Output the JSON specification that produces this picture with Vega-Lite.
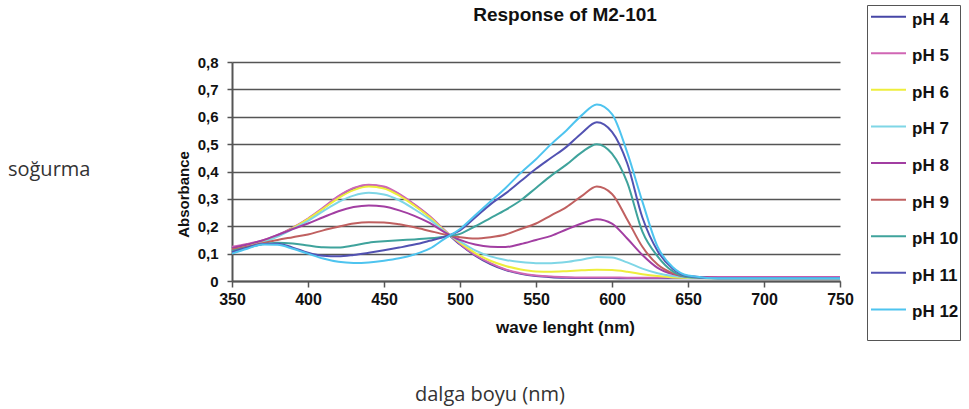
{
  "$schema": "https://vega.github.io/schema/vega-lite/v6.json",
  "autosize": {"type": "none"},
  "width": 608,
  "height": 219,
  "padding": {"left": 232, "top": 62, "right": 129, "bottom": 128},
  "background": "white",
  "config": {"view": {"stroke": null}, "font": "Liberation Sans"},
  "layer": [
    {
      "data": {
        "values": [
          {"wl": 350, "pH 4": 0.120, "pH 5": 0.125, "pH 6": 0.115, "pH 7": 0.110, "pH 8": 0.120, "pH 9": 0.115, "pH 10": 0.110, "pH 11": 0.105, "pH 12": 0.100},
          {"wl": 360, "pH 4": 0.132, "pH 5": 0.135, "pH 6": 0.128, "pH 7": 0.125, "pH 8": 0.133, "pH 9": 0.125, "pH 10": 0.122, "pH 11": 0.122, "pH 12": 0.118},
          {"wl": 370, "pH 4": 0.146, "pH 5": 0.148, "pH 6": 0.143, "pH 7": 0.140, "pH 8": 0.148, "pH 9": 0.138, "pH 10": 0.134, "pH 11": 0.135, "pH 12": 0.133},
          {"wl": 380, "pH 4": 0.166, "pH 5": 0.168, "pH 6": 0.165, "pH 7": 0.162, "pH 8": 0.168, "pH 9": 0.150, "pH 10": 0.140, "pH 11": 0.136, "pH 12": 0.132},
          {"wl": 390, "pH 4": 0.193, "pH 5": 0.195, "pH 6": 0.193, "pH 7": 0.190, "pH 8": 0.190, "pH 9": 0.160, "pH 10": 0.137, "pH 11": 0.122, "pH 12": 0.118},
          {"wl": 400, "pH 4": 0.226, "pH 5": 0.228, "pH 6": 0.226, "pH 7": 0.220, "pH 8": 0.210, "pH 9": 0.170, "pH 10": 0.130, "pH 11": 0.103, "pH 12": 0.100},
          {"wl": 410, "pH 4": 0.266, "pH 5": 0.268, "pH 6": 0.264, "pH 7": 0.255, "pH 8": 0.233, "pH 9": 0.185, "pH 10": 0.123, "pH 11": 0.092, "pH 12": 0.082},
          {"wl": 420, "pH 4": 0.308, "pH 5": 0.310, "pH 6": 0.303, "pH 7": 0.288, "pH 8": 0.255, "pH 9": 0.198, "pH 10": 0.122, "pH 11": 0.090, "pH 12": 0.070},
          {"wl": 430, "pH 4": 0.338, "pH 5": 0.340, "pH 6": 0.332, "pH 7": 0.312, "pH 8": 0.270, "pH 9": 0.210, "pH 10": 0.130, "pH 11": 0.095, "pH 12": 0.066},
          {"wl": 440, "pH 4": 0.350, "pH 5": 0.352, "pH 6": 0.345, "pH 7": 0.322, "pH 8": 0.276, "pH 9": 0.215, "pH 10": 0.140, "pH 11": 0.103, "pH 12": 0.068},
          {"wl": 450, "pH 4": 0.343, "pH 5": 0.345, "pH 6": 0.338, "pH 7": 0.316, "pH 8": 0.272, "pH 9": 0.214, "pH 10": 0.145, "pH 11": 0.112, "pH 12": 0.074},
          {"wl": 460, "pH 4": 0.316, "pH 5": 0.318, "pH 6": 0.312, "pH 7": 0.295, "pH 8": 0.258, "pH 9": 0.207, "pH 10": 0.149, "pH 11": 0.122, "pH 12": 0.083},
          {"wl": 470, "pH 4": 0.278, "pH 5": 0.280, "pH 6": 0.275, "pH 7": 0.262, "pH 8": 0.238, "pH 9": 0.196, "pH 10": 0.152, "pH 11": 0.133, "pH 12": 0.097},
          {"wl": 480, "pH 4": 0.235, "pH 5": 0.237, "pH 6": 0.233, "pH 7": 0.225, "pH 8": 0.212, "pH 9": 0.183, "pH 10": 0.156, "pH 11": 0.147, "pH 12": 0.118},
          {"wl": 490, "pH 4": 0.183, "pH 5": 0.185, "pH 6": 0.183, "pH 7": 0.180, "pH 8": 0.178, "pH 9": 0.170, "pH 10": 0.162, "pH 11": 0.162, "pH 12": 0.155},
          {"wl": 500, "pH 4": 0.133, "pH 5": 0.135, "pH 6": 0.140, "pH 7": 0.145, "pH 8": 0.150, "pH 9": 0.160, "pH 10": 0.172, "pH 11": 0.185, "pH 12": 0.190},
          {"wl": 510, "pH 4": 0.093, "pH 5": 0.095, "pH 6": 0.102, "pH 7": 0.112, "pH 8": 0.133, "pH 9": 0.155, "pH 10": 0.200, "pH 11": 0.232, "pH 12": 0.240},
          {"wl": 520, "pH 4": 0.062, "pH 5": 0.065, "pH 6": 0.074, "pH 7": 0.090, "pH 8": 0.125, "pH 9": 0.160, "pH 10": 0.230, "pH 11": 0.280, "pH 12": 0.290},
          {"wl": 530, "pH 4": 0.040, "pH 5": 0.042, "pH 6": 0.055, "pH 7": 0.077, "pH 8": 0.124, "pH 9": 0.170, "pH 10": 0.260, "pH 11": 0.320, "pH 12": 0.340},
          {"wl": 540, "pH 4": 0.026, "pH 5": 0.028, "pH 6": 0.042, "pH 7": 0.069, "pH 8": 0.135, "pH 9": 0.190, "pH 10": 0.295, "pH 11": 0.365, "pH 12": 0.395},
          {"wl": 550, "pH 4": 0.018, "pH 5": 0.020, "pH 6": 0.035, "pH 7": 0.065, "pH 8": 0.150, "pH 9": 0.210, "pH 10": 0.340, "pH 11": 0.410, "pH 12": 0.445},
          {"wl": 560, "pH 4": 0.014, "pH 5": 0.016, "pH 6": 0.034, "pH 7": 0.065, "pH 8": 0.165, "pH 9": 0.240, "pH 10": 0.385, "pH 11": 0.450, "pH 12": 0.500},
          {"wl": 570, "pH 4": 0.012, "pH 5": 0.014, "pH 6": 0.036, "pH 7": 0.069, "pH 8": 0.188, "pH 9": 0.270, "pH 10": 0.425, "pH 11": 0.490, "pH 12": 0.550},
          {"wl": 580, "pH 4": 0.011, "pH 5": 0.013, "pH 6": 0.039, "pH 7": 0.078, "pH 8": 0.210, "pH 9": 0.310, "pH 10": 0.470, "pH 11": 0.540, "pH 12": 0.605},
          {"wl": 590, "pH 4": 0.011, "pH 5": 0.013, "pH 6": 0.041, "pH 7": 0.088, "pH 8": 0.226, "pH 9": 0.345, "pH 10": 0.500, "pH 11": 0.580, "pH 12": 0.645},
          {"wl": 600, "pH 4": 0.011, "pH 5": 0.013, "pH 6": 0.040, "pH 7": 0.086, "pH 8": 0.210, "pH 9": 0.318, "pH 10": 0.465, "pH 11": 0.545, "pH 12": 0.610},
          {"wl": 610, "pH 4": 0.010, "pH 5": 0.012, "pH 6": 0.034, "pH 7": 0.068, "pH 8": 0.155, "pH 9": 0.225, "pH 10": 0.360, "pH 11": 0.430, "pH 12": 0.470},
          {"wl": 620, "pH 4": 0.010, "pH 5": 0.012, "pH 6": 0.025, "pH 7": 0.045, "pH 8": 0.095, "pH 9": 0.125, "pH 10": 0.180, "pH 11": 0.232, "pH 12": 0.290},
          {"wl": 630, "pH 4": 0.010, "pH 5": 0.012, "pH 6": 0.018, "pH 7": 0.028, "pH 8": 0.048, "pH 9": 0.060, "pH 10": 0.090, "pH 11": 0.110, "pH 12": 0.125},
          {"wl": 640, "pH 4": 0.010, "pH 5": 0.013, "pH 6": 0.013, "pH 7": 0.018, "pH 8": 0.025, "pH 9": 0.028, "pH 10": 0.035, "pH 11": 0.045, "pH 12": 0.050},
          {"wl": 650, "pH 4": 0.010, "pH 5": 0.014, "pH 6": 0.011, "pH 7": 0.013, "pH 8": 0.017, "pH 9": 0.015, "pH 10": 0.015, "pH 11": 0.018, "pH 12": 0.020},
          {"wl": 670, "pH 4": 0.010, "pH 5": 0.015, "pH 6": 0.010, "pH 7": 0.010, "pH 8": 0.012, "pH 9": 0.011, "pH 10": 0.010, "pH 11": 0.010, "pH 12": 0.010},
          {"wl": 700, "pH 4": 0.010, "pH 5": 0.015, "pH 6": 0.010, "pH 7": 0.010, "pH 8": 0.012, "pH 9": 0.011, "pH 10": 0.010, "pH 11": 0.010, "pH 12": 0.010},
          {"wl": 750, "pH 4": 0.010, "pH 5": 0.015, "pH 6": 0.010, "pH 7": 0.010, "pH 8": 0.012, "pH 9": 0.011, "pH 10": 0.010, "pH 11": 0.010, "pH 12": 0.010}
        ]
      },
      "transform": [
        {"fold": ["pH 4", "pH 5", "pH 6", "pH 7", "pH 8", "pH 9", "pH 10", "pH 11", "pH 12"], "as": ["ph", "abs"]}
      ],
      "mark": {"type": "line", "interpolate": "monotone", "strokeWidth": 2},
      "encoding": {
        "x": {
          "field": "wl",
          "type": "quantitative",
          "scale": {"domain": [350, 750], "nice": false, "zero": false},
          "axis": {
            "title": "wave lenght (nm)",
            "titleFont": "Liberation Sans",
            "titleFontSize": 17,
            "titleFontWeight": "bold",
            "titleColor": "#111111",
            "titleX": 333,
            "titleY": 46,
            "titleBaseline": "middle",
            "titleAlign": "center",
            "values": [350, 400, 450, 500, 550, 600, 650, 700, 750],
            "labelFont": "Liberation Sans",
            "labelFontSize": 16,
            "labelFontWeight": "bold",
            "labelColor": "#111111",
            "labelPadding": 4,
            "labelFlush": false,
            "labelOverlap": false,
            "tickSize": 6,
            "tickColor": "#555555",
            "tickWidth": 1.5,
            "domainColor": "#555555",
            "domainWidth": 2,
            "grid": false
          }
        },
        "y": {
          "field": "abs",
          "type": "quantitative",
          "scale": {"domain": [0, 0.8], "nice": false},
          "axis": {
            "title": "Absorbance",
            "titleFont": "Liberation Sans",
            "titleFontSize": 15,
            "titleFontWeight": "bold",
            "titleColor": "#111111",
            "titleX": -49,
            "titleY": 132,
            "titleAngle": -90,
            "titleAlign": "center",
            "titleBaseline": "middle",
            "values": [0, 0.1, 0.2, 0.3, 0.4, 0.5, 0.6, 0.7, 0.8],
            "labelExpr": "datum.value == 0 ? '0' : replace(format(datum.value, '.1f'), '.', ',')",
            "labelFont": "Liberation Sans",
            "labelFontSize": 15,
            "labelFontWeight": "bold",
            "labelColor": "#111111",
            "labelPadding": 9,
            "labelFlush": false,
            "labelOverlap": false,
            "tickSize": 5,
            "tickColor": "#555555",
            "tickWidth": 1.5,
            "domainColor": "#555555",
            "domainWidth": 2,
            "grid": true,
            "gridColor": "#555555",
            "gridWidth": 1.5
          }
        },
        "color": {
          "field": "ph",
          "type": "nominal",
          "scale": {
            "domain": ["pH 4", "pH 5", "pH 6", "pH 7", "pH 8", "pH 9", "pH 10", "pH 11", "pH 12"],
            "range": ["#4646a6", "#d066b4", "#eeee3c", "#7fd6e6", "#a23ea2", "#c06060", "#3fa39c", "#5252b2", "#4ec4ef"]
          },
          "legend": {
            "title": " ",
            "titleOrient": "bottom",
            "titleFontSize": 11,
            "titlePadding": 8,
            "orient": "none",
            "legendX": 635,
            "legendY": -57,
            "strokeColor": "#555555",
            "padding": 1,
            "symbolType": "M-1,-0.45H1",
            "symbolSize": 1225,
            "symbolStrokeWidth": 2,
            "symbolOffset": 2,
            "rowPadding": 14.6,
            "labelFont": "Liberation Sans",
            "labelFontSize": 17,
            "labelFontWeight": "bold",
            "labelColor": "#111111",
            "labelBaseline": "alphabetic",
            "labelOffset": 5
          }
        }
      }
    },
    {
      "data": {"values": [{}]},
      "mark": {"type": "text", "font": "Liberation Sans", "fontSize": 19, "fontWeight": "bold", "color": "#111111", "align": "center", "baseline": "middle"},
      "encoding": {
        "x": {"datum": 569.1, "axis": {"values": [350, 400, 450, 500, 550, 600, 650, 700, 750]}},
        "y": {"datum": 0.97, "axis": {"values": [0, 0.1, 0.2, 0.3, 0.4, 0.5, 0.6, 0.7, 0.8]}},
        "text": {"value": "Response of M2-101"}
      }
    },
    {
      "data": {"values": [{}]},
      "mark": {"type": "text", "font": "Open Sans", "fontSize": 20, "color": "#333333", "align": "left", "baseline": "middle"},
      "encoding": {
        "x": {"datum": 202.6, "axis": {"values": [350, 400, 450, 500, 550, 600, 650, 700, 750]}},
        "y": {"datum": 0.405, "axis": {"values": [0, 0.1, 0.2, 0.3, 0.4, 0.5, 0.6, 0.7, 0.8]}},
        "text": {"value": "soğurma"}
      }
    },
    {
      "data": {"values": [{}]},
      "mark": {"type": "text", "font": "Open Sans", "fontSize": 20, "color": "#333333", "align": "center", "baseline": "middle"},
      "encoding": {
        "x": {"datum": 519.7, "axis": {"values": [350, 400, 450, 500, 550, 600, 650, 700, 750]}},
        "y": {"datum": -0.416, "axis": {"values": [0, 0.1, 0.2, 0.3, 0.4, 0.5, 0.6, 0.7, 0.8]}},
        "text": {"value": "dalga boyu (nm)"}
      }
    }
  ]
}
